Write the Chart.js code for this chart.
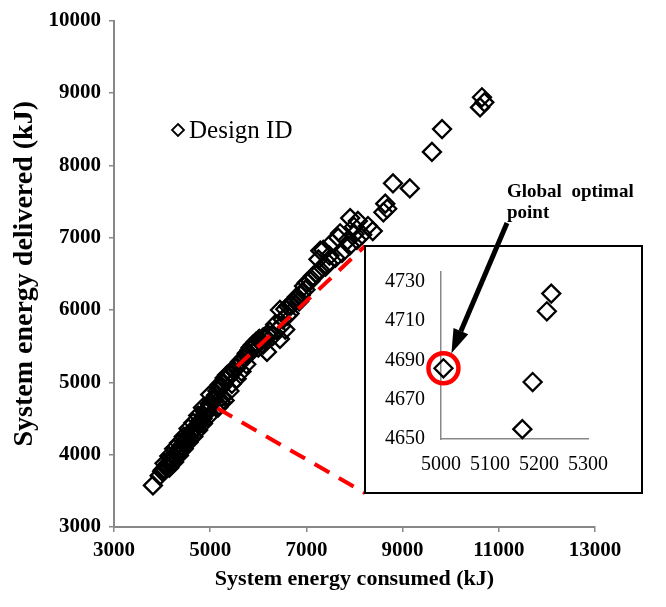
<!DOCTYPE html>
<html>
<head>
<meta charset="utf-8">
<script src="https://cdn.jsdelivr.net/npm/chart.js@4.4.0/dist/chart.umd.min.js"></script>
<style>
  body { margin: 0; background: #fff; }
  #wrap { position: relative; width: 666px; height: 607px; }
  #main { position: absolute; left: 0; top: 0; }
  #inset { position: absolute; left: 360px; top: 175px; }
</style>
</head>
<body>
<div id="wrap">
  <canvas id="main" width="666" height="607"></canvas>
  <canvas id="inset" width="306" height="325"></canvas>
</div>
<script>
// all design points (kJ)
const energyConsumed = [
  3810, 3950, 4000, 4020, 4050, 4080, 4100, 4130, 4150, 4180, 4200, 4240, 4260, 4300, 4330, 4350,
  4380, 4400, 4410, 4440, 4470, 4490, 4520, 4540, 4580, 4590, 4620, 4640, 4680, 4690, 4720, 4760,
  4790, 4810, 4840, 4870, 4890, 4910, 4930, 4960, 4990, 5005, 5166, 5187, 5216, 5225,
  5000, 5040, 5080, 5120, 5150, 5180, 5200, 5240, 5280, 5300, 5320, 5350, 5380, 5420, 5440, 5480,
  5520, 5550, 5580, 5620, 5650, 5700, 5720, 5750, 5760, 5790, 5820, 5840, 5890, 5900, 5950, 5970,
  6000, 6020, 6050, 6100, 6100, 6140, 6180, 6220, 6240, 6300, 6350, 6380, 6450, 6450, 6480, 6510,
  6560, 6560, 6600, 6620, 6650, 6680, 6720, 6760, 6800, 6850, 6880, 6910, 6950, 6980, 7010, 7080,
  7140, 7250, 7220, 7280, 7290, 7350, 7400, 7450, 7480, 7530, 7600, 7660, 7700, 7740, 7850, 7900,
  7910, 7990, 8000, 8050, 8070, 8160, 8280, 8380, 8600, 8640, 8680, 8800, 9150, 9610, 9820,
  10610, 10650, 10700,
  4150, 4250, 4350, 4450, 4550, 4650, 4750, 4850, 4950, 4050, 4150, 4250, 4350, 4450, 4550, 4650,
  4750, 4850, 5250, 5400, 5300, 5450, 5550, 5650
];
const energyDelivered = [
  3575, 3710, 3770, 3790, 3800, 3830, 3850, 3880, 3890, 3910, 3940, 3990, 3960, 4020, 4030, 4070,
  4060, 4110, 4100, 4150, 4190, 4200, 4200, 4240, 4290, 4280, 4310, 4330, 4370, 4360, 4390, 4420,
  4460, 4480, 4500, 4540, 4600, 4580, 4620, 4640, 4700, 4686, 4655, 4679, 4715, 4724,
  4830, 4750, 4760, 4820, 4880, 4930, 4970, 4940, 4990, 5060, 5030, 5100, 5070, 5130, 5110, 5170,
  5210, 5200, 5240, 5285, 5300, 5330, 5350, 5250, 5400, 5380, 5450, 5480, 5520, 5480, 5560, 5530,
  5480, 5600, 5560, 5620, 5520, 5590, 5420, 5650, 5700, 5640, 5800, 5720, 5600, 6000, 5780, 5870,
  5730, 6010, 5920, 6050, 5950, 6060, 6100, 6140, 6180, 6120, 6200, 6240, 6330, 6280, 6380, 6400,
  6470, 6700, 6500, 6560, 6820, 6830, 6600, 6650, 6750, 6930, 6720, 7000, 7060, 6790, 6960, 6890,
  7270, 7150, 7050, 6970, 7230, 7040, 7160, 7090, 7350, 7470, 7400, 7750, 7680, 8185, 8500,
  8800, 8940, 8870,
  3820, 3900, 3990, 4080, 4170, 4250, 4340, 4430, 4520, 3880, 3980, 4080, 4160, 4250, 4360, 4440,
  4540, 4650, 4800, 4880, 4750, 4980, 5050, 5150
];
const xTicks = [3000, 5000, 7000, 9000, 11000, 13000];
const yTicks = [3000, 4000, 5000, 6000, 7000, 8000, 9000, 10000];

// zoomed region
const insetConsumed = [5005, 5166, 5187, 5216, 5225];
const insetDelivered = [4686, 4655, 4679, 4715, 4724];
const optimalPoint = [5005, 4686];
const insetXTicks = [5000, 5100, 5200, 5300];
const insetYTicks = [4650, 4670, 4690, 4710, 4730];

// where the dashed zoom lines leave the main cloud (data units)
const zoomFromUpper = [5560, 5220];
const zoomFromLower = [5150, 4640];

const serif = "'Liberation Serif', 'Times New Roman', serif";

function pts(xs, ys) {
  return xs.map((v, i) => ({ x: v, y: ys[i] }));
}

const zoomLines = {
  id: 'zoomLines',
  afterDatasetsDraw(chart) {
    const { ctx, scales: { x, y } } = chart;
    ctx.save();
    ctx.strokeStyle = '#ff0000';
    ctx.lineWidth = 4;
    ctx.setLineDash([17, 11]);
    ctx.beginPath();
    ctx.moveTo(x.getPixelForValue(zoomFromUpper[0]), y.getPixelForValue(zoomFromUpper[1]));
    ctx.lineTo(365, 246);
    ctx.moveTo(x.getPixelForValue(zoomFromLower[0]), y.getPixelForValue(zoomFromLower[1]));
    ctx.lineTo(365, 493);
    ctx.stroke();
    ctx.setLineDash([]);

    // legend
    ctx.strokeStyle = '#000';
    ctx.lineWidth = 1.8;
    ctx.beginPath();
    ctx.moveTo(178, 124); ctx.lineTo(184, 130); ctx.lineTo(178, 136); ctx.lineTo(172, 130);
    ctx.closePath();
    ctx.stroke();
    ctx.fillStyle = '#000';
    ctx.font = '25px ' + serif;
    ctx.textBaseline = 'middle';
    ctx.fillText('Design ID', 189, 131);
    ctx.restore();
  }
};

new Chart(document.getElementById('main'), {
  type: 'scatter',
  data: {
    datasets: [{
      label: 'Design ID',
      data: pts(energyConsumed, energyDelivered),
      pointStyle: 'rectRot',
      pointRadius: 9,
      pointBorderWidth: 2.3,
      borderColor: '#000',
      backgroundColor: 'rgba(0,0,0,0)'
    }]
  },
  options: {
    responsive: false,
    animation: false,
    layout: { padding: { left: 0, right: 71, top: 15, bottom: 0 } },
    plugins: { legend: { display: false }, tooltip: { enabled: false } },
    scales: {
      x: {
        min: 3000, max: 13000,
        afterBuildTicks: s => { s.ticks = xTicks.map(v => ({ value: v })); },
        afterFit: s => { s.height = 80; },
        grid: { drawOnChartArea: false, color: '#888', tickLength: 5, lineWidth: 1.5 },
        border: { color: '#888', width: 2 },
        ticks: { color: '#000', padding: 6, maxRotation: 0, callback: v => String(v),
                 font: { family: serif, size: 21, weight: 'bold' } },
        title: { display: true, text: 'System energy consumed (kJ)', color: '#000',
                 padding: { top: 0, bottom: 14 }, font: { family: serif, size: 22, weight: 'bold' } }
      },
      y: {
        min: 3000, max: 10000,
        afterBuildTicks: s => { s.ticks = yTicks.map(v => ({ value: v })); },
        afterFit: s => { s.width = 114; },
        grid: { drawOnChartArea: false, color: '#888', tickLength: 5, lineWidth: 1.5 },
        border: { color: '#888', width: 2 },
        ticks: { color: '#000', padding: 8, callback: v => String(v),
                 font: { family: serif, size: 21, weight: 'bold' } },
        title: { display: true, text: 'System energy delivered (kJ)', color: '#000',
                 padding: { top: 8, bottom: 0 }, font: { family: serif, size: 28, weight: 'bold' } }
      }
    }
  },
  plugins: [zoomLines]
});

const insetDecor = {
  id: 'insetDecor',
  beforeDraw(chart) {
    const ctx = chart.ctx;
    ctx.save();
    ctx.fillStyle = '#fff';
    ctx.fillRect(5, 71, 277, 247);
    ctx.strokeStyle = '#000';
    ctx.lineWidth = 2;
    ctx.strokeRect(5, 71, 277, 247);
    ctx.restore();
  },
  afterDraw(chart) {
    const { ctx, scales: { x, y } } = chart;
    const tipX = x.getPixelForValue(optimalPoint[0]) + 8;
    const tipY = y.getPixelForValue(optimalPoint[1]) - 15;
    const tailX = 147, tailY = 48;
    const ang = Math.atan2(tipY - tailY, tipX - tailX);
    const headLen = 24, headW = 8;
    const bx = tipX - headLen * Math.cos(ang), by = tipY - headLen * Math.sin(ang);
    ctx.save();
    ctx.strokeStyle = '#000';
    ctx.fillStyle = '#000';
    ctx.lineWidth = 5;
    ctx.beginPath();
    ctx.moveTo(tailX, tailY);
    ctx.lineTo(bx, by);
    ctx.stroke();
    ctx.beginPath();
    ctx.moveTo(tipX, tipY);
    ctx.lineTo(bx + headW * Math.sin(ang), by - headW * Math.cos(ang));
    ctx.lineTo(bx - headW * Math.sin(ang), by + headW * Math.cos(ang));
    ctx.closePath();
    ctx.fill();

    ctx.font = 'bold 19px ' + serif;
    ctx.textBaseline = 'alphabetic';
    ctx.fillText('Global  optimal', 147, 22);
    ctx.fillText('point', 147, 43);
    ctx.restore();
  }
};

new Chart(document.getElementById('inset'), {
  type: 'scatter',
  data: {
    datasets: [{
      label: 'Design ID',
      data: pts(insetConsumed, insetDelivered),
      pointStyle: 'rectRot',
      pointRadius: 9,
      pointBorderWidth: 2.3,
      borderColor: '#000',
      backgroundColor: 'rgba(0,0,0,0)',
      clip: false
    }, {
      label: 'Global optimal point',
      data: [{ x: optimalPoint[0], y: optimalPoint[1] }],
      pointStyle: 'circle',
      pointRadius: 15,
      pointBorderWidth: 4.5,
      borderColor: '#ff0000',
      backgroundColor: 'rgba(0,0,0,0)',
      clip: false
    }]
  },
  options: {
    responsive: false,
    animation: false,
    layout: { padding: { left: 0, right: 78, top: 97, bottom: 0 } },
    plugins: { legend: { display: false }, tooltip: { enabled: false } },
    scales: {
      x: {
        min: 5000, max: 5300,
        afterBuildTicks: s => { s.ticks = insetXTicks.map(v => ({ value: v })); },
        afterFit: s => { s.height = 61; },
        grid: { display: false, drawTicks: false },
        border: { color: '#888', width: 1.5 },
        ticks: { color: '#000', padding: 14, maxRotation: 0, autoSkip: false, callback: v => String(v),
                 font: { family: serif, size: 20 } }
      },
      y: {
        min: 4650, max: 4735,
        afterBuildTicks: s => { s.ticks = insetYTicks.map(v => ({ value: v })); },
        afterFit: s => { s.width = 81; },
        grid: { display: false, drawTicks: false },
        border: { color: '#888', width: 1.5 },
        ticks: { color: '#000', padding: 16, callback: v => String(v),
                 font: { family: serif, size: 20 } }
      }
    }
  },
  plugins: [insetDecor]
});
</script>
</body>
</html>
